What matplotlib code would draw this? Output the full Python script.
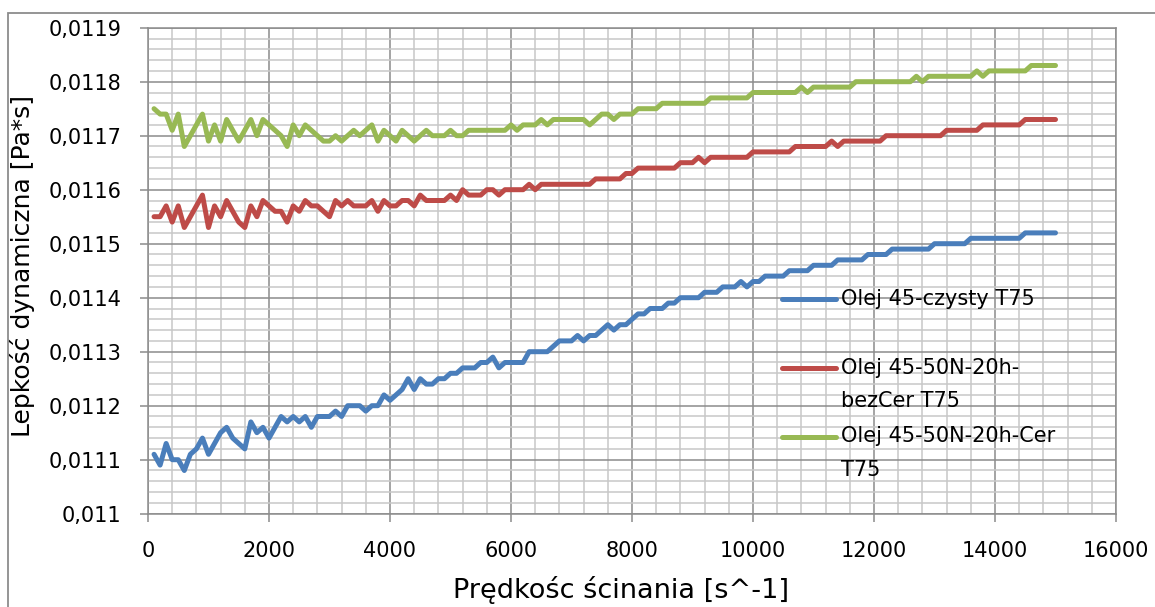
import numpy as np
import matplotlib
matplotlib.use("Agg")
import matplotlib.pyplot as plt
from matplotlib.ticker import MultipleLocator, FixedLocator
from matplotlib.legend_handler import HandlerLine2D
from matplotlib.patches import Rectangle

# ---------------- data ----------------
# shear rate [1/s]
shear_rate = np.arange(100, 15001, 100)

# dynamic viscosity, in units of 1e-5 Pa*s
olej_czysty = [
    1111, 1109, 1113, 1110, 1110, 1108, 1111, 1112, 1114, 1111,
    1113, 1115, 1116, 1114, 1113, 1112, 1117, 1115, 1116, 1114,
    1116, 1118, 1117, 1118, 1117, 1118, 1116, 1118, 1118, 1118,
    1119, 1118, 1120, 1120, 1120, 1119, 1120, 1120, 1122, 1121,
    1122, 1123, 1125, 1123, 1125, 1124, 1124, 1125, 1125, 1126,
    1126, 1127, 1127, 1127, 1128, 1128, 1129, 1127, 1128, 1128,
    1128, 1128, 1130, 1130, 1130, 1130, 1131, 1132, 1132, 1132,
    1133, 1132, 1133, 1133, 1134, 1135, 1134, 1135, 1135, 1136,
    1137, 1137, 1138, 1138, 1138, 1139, 1139, 1140, 1140, 1140,
    1140, 1141, 1141, 1141, 1142, 1142, 1142, 1143, 1142, 1143,
    1143, 1144, 1144, 1144, 1144, 1145, 1145, 1145, 1145, 1146,
    1146, 1146, 1146, 1147, 1147, 1147, 1147, 1147, 1148, 1148,
    1148, 1148, 1149, 1149, 1149, 1149, 1149, 1149, 1149, 1150,
    1150, 1150, 1150, 1150, 1150, 1151, 1151, 1151, 1151, 1151,
    1151, 1151, 1151, 1151, 1152, 1152, 1152, 1152, 1152, 1152,
]

olej_bezcer = [
    1155, 1155, 1157, 1154, 1157, 1153, 1155, 1157, 1159, 1153,
    1157, 1155, 1158, 1156, 1154, 1153, 1157, 1155, 1158, 1157,
    1156, 1156, 1154, 1157, 1156, 1158, 1157, 1157, 1156, 1155,
    1158, 1157, 1158, 1157, 1157, 1157, 1158, 1156, 1158, 1157,
    1157, 1158, 1158, 1157, 1159, 1158, 1158, 1158, 1158, 1159,
    1158, 1160, 1159, 1159, 1159, 1160, 1160, 1159, 1160, 1160,
    1160, 1160, 1161, 1160, 1161, 1161, 1161, 1161, 1161, 1161,
    1161, 1161, 1161, 1162, 1162, 1162, 1162, 1162, 1163, 1163,
    1164, 1164, 1164, 1164, 1164, 1164, 1164, 1165, 1165, 1165,
    1166, 1165, 1166, 1166, 1166, 1166, 1166, 1166, 1166, 1167,
    1167, 1167, 1167, 1167, 1167, 1167, 1168, 1168, 1168, 1168,
    1168, 1168, 1169, 1168, 1169, 1169, 1169, 1169, 1169, 1169,
    1169, 1170, 1170, 1170, 1170, 1170, 1170, 1170, 1170, 1170,
    1170, 1171, 1171, 1171, 1171, 1171, 1171, 1172, 1172, 1172,
    1172, 1172, 1172, 1172, 1173, 1173, 1173, 1173, 1173, 1173,
]

olej_cer = [
    1175, 1174, 1174, 1171, 1174, 1168, 1170, 1172, 1174, 1169,
    1172, 1169, 1173, 1171, 1169, 1171, 1173, 1170, 1173, 1172,
    1171, 1170, 1168, 1172, 1170, 1172, 1171, 1170, 1169, 1169,
    1170, 1169, 1170, 1171, 1170, 1171, 1172, 1169, 1171, 1170,
    1169, 1171, 1170, 1169, 1170, 1171, 1170, 1170, 1170, 1171,
    1170, 1170, 1171, 1171, 1171, 1171, 1171, 1171, 1171, 1172,
    1171, 1172, 1172, 1172, 1173, 1172, 1173, 1173, 1173, 1173,
    1173, 1173, 1172, 1173, 1174, 1174, 1173, 1174, 1174, 1174,
    1175, 1175, 1175, 1175, 1176, 1176, 1176, 1176, 1176, 1176,
    1176, 1176, 1177, 1177, 1177, 1177, 1177, 1177, 1177, 1178,
    1178, 1178, 1178, 1178, 1178, 1178, 1178, 1179, 1178, 1179,
    1179, 1179, 1179, 1179, 1179, 1179, 1180, 1180, 1180, 1180,
    1180, 1180, 1180, 1180, 1180, 1180, 1181, 1180, 1181, 1181,
    1181, 1181, 1181, 1181, 1181, 1181, 1182, 1181, 1182, 1182,
    1182, 1182, 1182, 1182, 1182, 1183, 1183, 1183, 1183, 1183,
]

series_values = [olej_czysty, olej_bezcer, olej_cer]
series_labels = [
    "Olej 45-czysty T75\n ",
    "Olej 45-50N-20h-\nbezCer T75",
    "Olej 45-50N-20h-Cer\nT75",
]
series_colors = ["#4A7EBB", "#BE4B48", "#98B954"]

x_ticks = [0, 2000, 4000, 6000, 8000, 10000, 12000, 14000, 16000]
x_tick_labels = ["0", "2000", "4000", "6000", "8000", "10000", "12000", "14000", "16000"]
y_ticks = [0.0110, 0.0111, 0.0112, 0.0113, 0.0114, 0.0115, 0.0116, 0.0117, 0.0118, 0.0119]
y_tick_labels = ["0,011", "0,0111", "0,0112", "0,0113", "0,0114", "0,0115",
                 "0,0116", "0,0117", "0,0118", "0,0119"]

x_label = "Prędkośc ścinania [s^-1]"
y_label = "Lepkość dynamiczna [Pa*s]"

# ---------------- figure ----------------
plt.rcParams["font.family"] = ["DejaVu Sans"]
W, H = 1155, 607
fig = plt.figure(figsize=(W / 100, H / 100), dpi=100)
ax = fig.add_axes([148 / W, 1 - 513.7 / H, (1116 - 148) / W, (513.7 - 27.7) / H])

major_c = "#8C8C8C"
minor_c = "#C8C8C8"

for vals, lab, col in zip(series_values, series_labels, series_colors):
    ax.plot(shear_rate, np.array(vals) * 1e-5, color=col, lw=3.6, label=lab,
            solid_joinstyle="round", solid_capstyle="round", zorder=3)

ax.set_xlim(0, 16000)
ax.set_ylim(0.011, 0.0119)
ax.xaxis.set_major_locator(FixedLocator(x_ticks))
ax.set_xticklabels(x_tick_labels)
ax.xaxis.set_minor_locator(MultipleLocator(400))
ax.yaxis.set_major_locator(FixedLocator(y_ticks))
ax.set_yticklabels(y_tick_labels)
ax.yaxis.set_minor_locator(MultipleLocator(0.00002))

ax.set_axisbelow(True)
ax.grid(which="minor", color=minor_c, lw=1.1)
ax.grid(which="major", color=major_c, lw=1.1)
for s in ax.spines.values():
    s.set_color(major_c)
    s.set_linewidth(1.1)

ax.tick_params(which="major", direction="out", length=6, width=1.1, color=major_c,
               labelsize=15, labelcolor="#000000")
ax.tick_params(axis="y", which="major", pad=13)
ax.tick_params(axis="x", which="major", pad=14)
ax.tick_params(which="minor", length=0)

ax.set_xlabel(x_label, fontsize=19.5, va="center")
ax.xaxis.set_label_coords(0.489, -0.157)
ax.set_ylabel(y_label, fontsize=18, va="center")
ax.yaxis.set_label_coords(-0.130, 0.51)


class FirstLineHandler(HandlerLine2D):
    def __init__(self, shift, **kw):
        super().__init__(**kw)
        self._shift = shift

    def create_artists(self, legend, orig_handle, xdescent, ydescent, width, height,
                       fontsize, trans):
        return super().create_artists(legend, orig_handle, xdescent,
                                      ydescent - 2 * self._shift, width, height,
                                      fontsize, trans)


handles, labels = ax.get_legend_handles_labels()
leg = ax.legend(handles, labels, loc="upper left",
                bbox_to_anchor=(782 / W, 1 - 289 / H), bbox_transform=fig.transFigure,
                frameon=False, fontsize=15, borderpad=0, borderaxespad=0,
                handlelength=2.6, handletextpad=0.25, labelspacing=0.72,
                handler_map={h: FirstLineHandler(12.3) for h in handles})
for t in leg.get_texts():
    t.set_linespacing(1.85)

fig.add_artist(Rectangle((8 / W, -0.2), 1.5, 1.2 - 12.5 / H, transform=fig.transFigure,
                         fill=False, edgecolor="#8C8C8C", lw=1.3, clip_on=False))

fig.savefig("out.png", dpi=100)
